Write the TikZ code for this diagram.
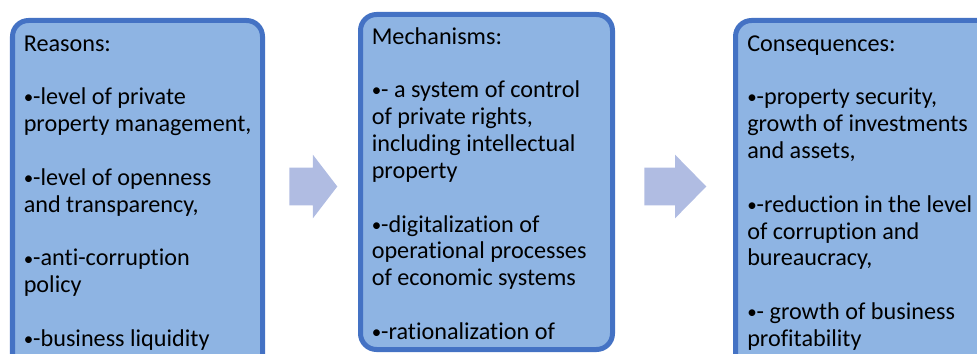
\documentclass[tikz,border=0pt]{standalone}
\usepackage{fontspec}
\setmainfont[Ligatures=NoCommon]{Carlito}
\usetikzlibrary{shapes.arrows,positioning,fit,calc}
\definecolor{frame}{RGB}{68,114,196}
\definecolor{boxfill}{RGB}{142,180,227}
\definecolor{arrowfill}{RGB}{176,188,226}
\newcommand{\itemdot}{\raisebox{0.6pt}{\fontsize{13.5}{13.5}\selectfont•}}

\begin{document}
\begin{tikzpicture}[
    x=0.025cm, y=-0.025cm,
    stage/.style={rectangle, draw=frame, fill=boxfill, line width=0.125cm, rounded corners=0.4cm, inner sep=0pt},
    stagetext/.style={anchor=north west, align=left, inner sep=0pt, font=\fontsize{17.2}{19.1}\selectfont},
    flowarrow/.style={single arrow, fill=arrowfill, draw=none, anchor=tail, inner xsep=0pt, inner ysep=0.4625cm, single arrow head extend=0.325cm}
]
    \clip (0,0) rectangle (977,354);
    \useasboundingbox (0,0) rectangle (977,354);

    \node[stage, fit={(12.5,20.5) (262.5,400)}] (reasons) {};
    \node[stage, fit={(360.5,14.5) (612.5,349.5)}] (mechanisms) {};
    \node[stage, fit={(735.5,20.5) (1000,400)}] (consequences) {};

    \node[stagetext] (reasonstext) at ($(reasons.north west)+(13.5,14)$) {\strut Reasons:\\[19.1pt]
        \itemdot-level of private\\ property management,\\[19.1pt]
        \itemdot-level of openness\\ and transparency,\\[19.1pt]
        \itemdot-anti-corruption\\ policy\\[19.1pt]
        \itemdot-business liquidity};
    \node[stagetext] (mechanismstext) at ($(mechanisms.north west)+(13.5,13)$) {\strut Mechanisms:\\[19.1pt]
        \itemdot- a system of control\\ of private rights,\\ including intellectual\\ property\\[19.1pt]
        \itemdot-digitalization of\\ operational processes\\ of economic systems\\[19.1pt]
        \itemdot-rationalization of};
    \node[stagetext] (consequencestext) at ($(consequences.north west)+(14,14)$) {\strut Consequences:\\[19.1pt]
        \itemdot-property security,\\ growth of investments\\ and assets,\\[19.1pt]
        \itemdot-reduction in the level\\ of corruption and\\ bureaucracy,\\[19.1pt]
        \itemdot- growth of business\\ profitability};

    \node[flowarrow, minimum height=1.2cm, single arrow tip angle=105] (arrowone) at (289,186.5) {};
    \node[flowarrow, minimum height=1.55cm, single arrow tip angle=91] (arrowtwo) at (644,186.5) {};
\end{tikzpicture}
\end{document}
